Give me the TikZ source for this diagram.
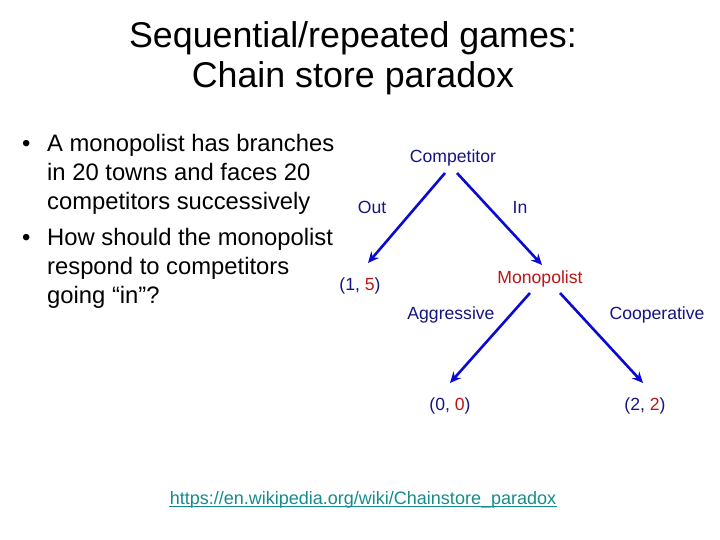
\documentclass[tikz,border=0pt]{standalone}
\usepackage{fontspec}
\setmainfont{Liberation Sans}
\usetikzlibrary{arrows.meta}
\definecolor{navy}{RGB}{20,20,130}
\definecolor{darkred}{RGB}{190,20,20}
\definecolor{arrowblue}{RGB}{10,10,210}
\definecolor{linkteal}{RGB}{20,140,140}
\begin{document}
\begin{tikzpicture}[x=1pt,y=-1pt,
  title/.style={font=\fontsize{35.8}{40}\selectfont, align=center},
  bul/.style={font=\fontsize{23.8}{29}\selectfont, anchor=base west, inner sep=0},
  lbl/.style={font=\fontsize{17.6}{19}\selectfont, text=navy, inner sep=1pt},
  pay/.style={font=\fontsize{17.6}{19}\selectfont, text=navy, inner sep=1pt},
  mv/.style={draw=arrowblue, line width=2.6pt, -{Stealth[length=11pt,width=10pt]}}]
\useasboundingbox (0,0) rectangle (720,540);
\node[title] (t1) at (353,38) {Sequential/repeated games:};
\node[title] (t2) at (353,78) {Chain store paradox};
\node[bul] (b1) at (22,152) {•};
\node[bul] (l1) at (47,152) {A monopolist has branches};
\node[bul] (l2) at (47,181) {in 20 towns and faces 20};
\node[bul] (l3) at (47,210) {competitors successively};
\node[bul] (b2) at (22,245) {•};
\node[bul] (l4) at (47,245) {How should the monopolist};
\node[bul] (l5) at (47,274) {respond to competitors};
\node[bul] (l6) at (47,303) {going “in”?};
\node[lbl] (comp) at (453,158) {Competitor};
\node[lbl] (out) at (372,207) {Out};
\node[lbl] (in) at (520,207) {In};
\node[pay] (p15) at (360,286) {(1, \textcolor{darkred}{5})};
\node[lbl, text=darkred] (mono) at (540,279) {Monopolist};
\node[lbl] (agg) at (451,315) {Aggressive};
\node[lbl] (coop) at (657,315) {Cooperative};
\node[pay] (p00) at (450,406) {(0, \textcolor{darkred}{0})};
\node[pay] (p22) at (645,406) {(2, \textcolor{darkred}{2})};
\coordinate (c1) at (445,173);
\coordinate (e1) at (368,263);
\coordinate (c2) at (457,173);
\coordinate (e2) at (542,265);
\coordinate (m1) at (530,293);
\coordinate (f1) at (450,383);
\coordinate (m2) at (560,293);
\coordinate (f2) at (643,383);
\draw[mv] (c1) -- (e1);
\draw[mv] (c2) -- (e2);
\draw[mv] (m1) -- (f1);
\draw[mv] (m2) -- (f2);
\node[font=\fontsize{18}{19}\selectfont, text=linkteal, inner sep=1pt] (link) at (363,500) {https://en.wikipedia.org/wiki/Chainstore\_paradox};
\draw[linkteal, line width=1.2pt] ([yshift=-2pt]link.base west) -- ([yshift=-2pt]link.base east);
\end{tikzpicture}
\end{document}
